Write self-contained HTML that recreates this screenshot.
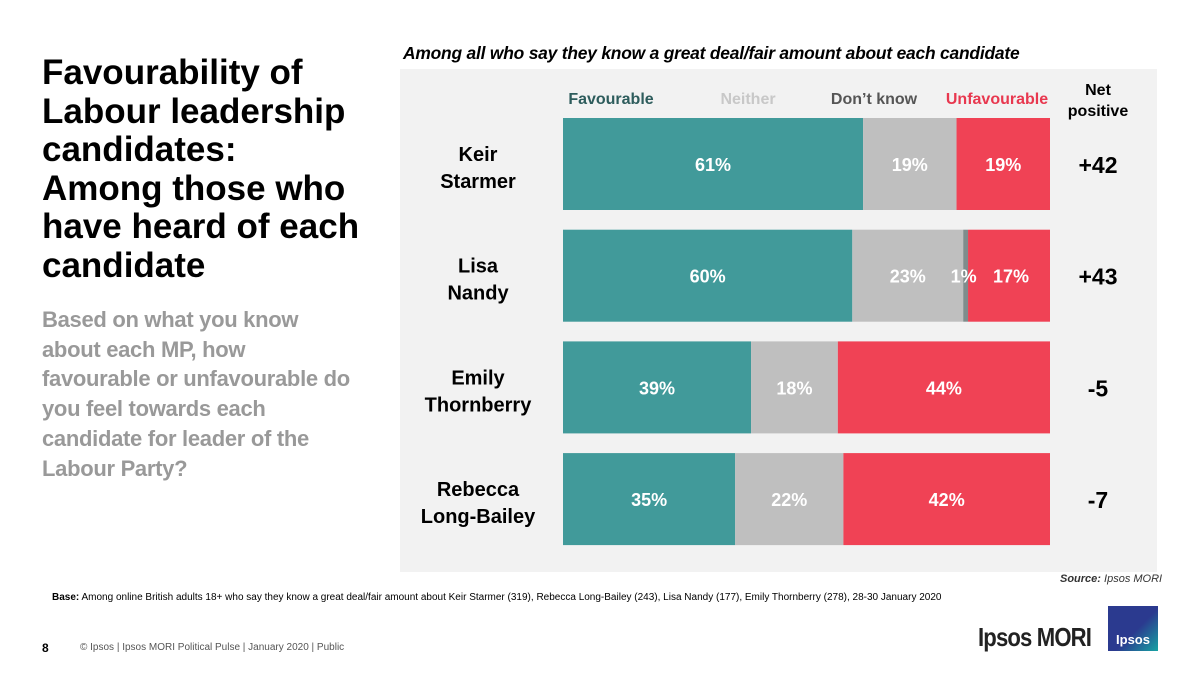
<!DOCTYPE html>
<html><head><meta charset="utf-8"><style>
body{margin:0;width:1200px;height:675px;background:#fff;font-family:"Liberation Sans",Arial,sans-serif;position:relative;overflow:hidden}
.a{position:absolute}
#title{left:42px;top:54px;font-size:35px;font-weight:bold;line-height:38.5px;color:#000}
#sub{left:42px;top:305px;font-size:22px;font-weight:bold;line-height:29.7px;color:#999;letter-spacing:-0.3px}
</style></head><body>
<div id="title" class="a">Favourability of<br>Labour leadership<br>candidates:<br>Among those who<br>have heard of each<br>candidate</div>
<div id="sub" class="a">Based on what you know<br>about each MP, how<br>favourable or unfavourable do<br>you feel towards each<br>candidate for leader of the<br>Labour Party?</div>
<div class="a" style="left:403px;top:43px;font-size:17.4px;font-weight:bold;font-style:italic;letter-spacing:-0.2px">Among all who say they know a great deal/fair amount about each candidate</div>
<svg class="a" style="left:0;top:0" width="1200" height="675" id="svg"></svg>
<div class="a" style="left:1060px;top:573px;font-size:11px;font-style:italic;color:#333"><b>Source:</b> Ipsos MORI</div>
<div class="a" style="left:52px;top:592px;font-size:10px;color:#000"><b>Base:</b> Among online British adults 18+ who say they know a great deal/fair amount about Keir Starmer (319), Rebecca Long-Bailey (243), Lisa Nandy (177), Emily Thornberry (278), 28-30 January 2020</div>
<div class="a" style="left:42px;top:641px;font-size:12px;font-weight:bold">8</div>
<div class="a" style="left:80px;top:642px;font-size:10px;color:#555">© Ipsos | Ipsos MORI Political Pulse | January 2020 | Public</div>
<div class="a" style="left:978px;top:622px;font-size:26px;font-weight:bold;color:#222;letter-spacing:-1px;transform:scaleX(0.85);transform-origin:left">Ipsos MORI</div>
<div class="a" style="left:1108px;top:606px;width:50px;height:45px;background:linear-gradient(135deg,#2b3a8f 55%,#17a3a3);color:#fff;font-size:13px;font-weight:bold;text-align:center;line-height:68px">Ipsos</div>
<script>
const candidates=["Keir Starmer","Lisa Nandy","Emily Thornberry","Rebecca Long-Bailey"];
const nameLines=[["Keir","Starmer"],["Lisa","Nandy"],["Emily","Thornberry"],["Rebecca","Long-Bailey"]];
const favourable=[61,60,39,35];
const neither=[19,23,18,22];
const dontKnow=[0,1,0,0];
const unfavourable=[19,17,44,42];
const netPositive=["+42","+43","-5","-7"];
const NS="http://www.w3.org/2000/svg";
const svg=document.getElementById('svg');
function mk(t,a,txt){const e=document.createElementNS(NS,t);for(const k in a)e.setAttribute(k,a[k]);if(txt!=null)e.textContent=txt;svg.appendChild(e);return e;}
const bg=mk('rect',{x:400,y:69,width:757,height:503,fill:'#f2f2f2'});


const X0=563,W=487,H=92;
function yPos(i){return 118+i*111.7;}
const legend=[["Favourable",611,'#2d5c5c'],["Neither",748,'#c8c8c8'],["Don’t know",874,'#555'],["Unfavourable",997,'#e8384f']];
legend.forEach(l=>{const t=mk('text',{x:l[1],y:104,'text-anchor':'middle','font-size':16,'font-weight':'bold',fill:l[2]},l[0]);

});
const nh=mk('text',{x:1098,y:95,'text-anchor':'middle','font-size':16,'font-weight':'bold'});


nh.innerHTML='<tspan x="1098">Net</tspan><tspan x="1098" dy="21">positive</tspan>';
const series=[[favourable,'#419a9a'],[neither,'#bfbfbf'],[dontKnow,'#7f8c8c'],[unfavourable,'#f04255']];
const labels=[];
candidates.forEach((c,i)=>{
  const y=yPos(i);
  const sum=favourable[i]+neither[i]+dontKnow[i]+unfavourable[i];
  const sc=W/sum;let x=X0;
  series.forEach((s,si)=>{const v=s[0][i];const w=v*sc;
    if(v>0){const r=mk('rect',{x:x,y:y,width:w,height:H,fill:s[1]});
      
      
      const cx=si==2?x+w/2-2:(si==3&&dontKnow[i]>0?x+w/2+2:x+w/2);
      labels.push([cx,y+H/2+7,v+'%']);}
    x+=w;});
  const nm=mk('text',{x:478,y:y+H/2-3,'text-anchor':'middle','font-size':20,'font-weight':'bold'});
  
  
  nm.innerHTML='<tspan x="478">'+nameLines[i][0]+'</tspan><tspan x="478" dy="27">'+nameLines[i][1]+'</tspan>';
  const n=mk('text',{x:1098,y:y+H/2+9,'text-anchor':'middle','font-size':23,'font-weight':'bold'},netPositive[i]);
  
  
});
labels.forEach(l=>{
  const t=mk('text',{x:l[0],y:l[1],'text-anchor':'middle','font-size':18,'font-weight':'bold',fill:'#fff'},l[2]);
  
  
});
</script>
</body></html>
